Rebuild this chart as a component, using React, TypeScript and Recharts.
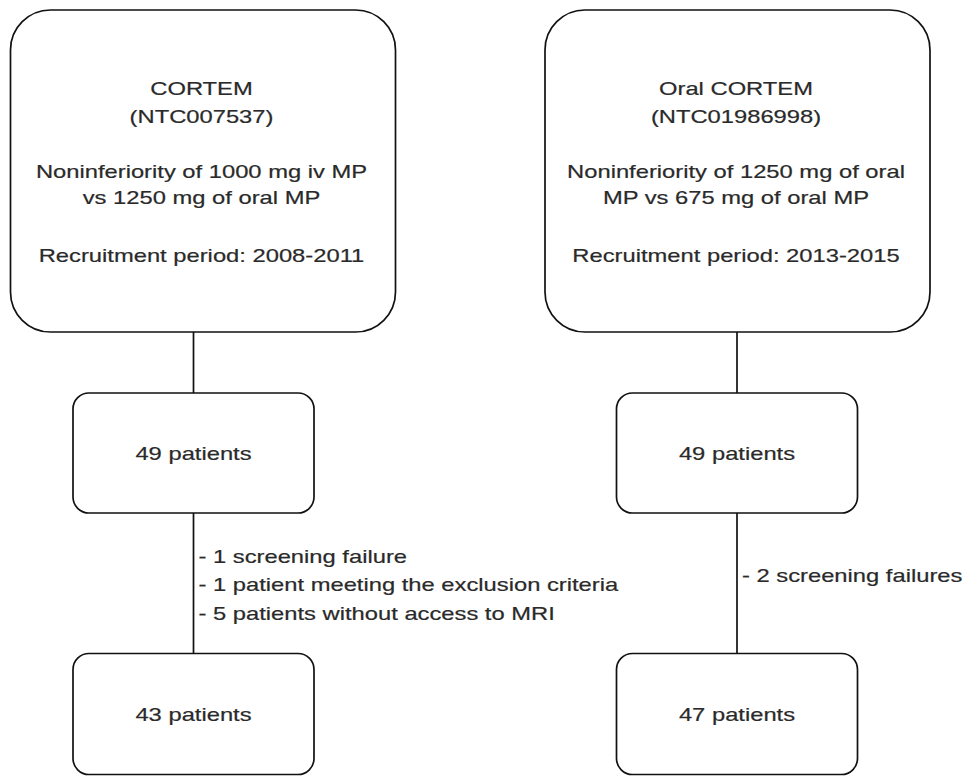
import { ScatterChart, Scatter, XAxis, YAxis, ReferenceLine } from 'recharts';

// study info
const STUDY_NAMES = ['CORTEM', 'Oral CORTEM'];
const TRIAL_IDS = ['NTC007537', 'NTC01986998'];
const AIMS = [
  ['Noninferiority of 1000 mg iv MP', 'vs 1250 mg of oral MP'],
  ['Noninferiority of 1250 mg of oral', 'MP vs 675 mg of oral MP'],
];
const PERIODS = ['2008-2011', '2013-2015'];

// patient flow
const ENROLLED = [49, 49];
const ANALYSED = [43, 47];
const EXCLUSIONS = [
  ['1 screening failure', '1 patient meeting the exclusion criteria', '5 patients without access to MRI'],
  ['2 screening failures'],
];

// layout (diagram units == pixels)
const W = 969;
const H = 776;
const COL_X = [193.5, 737];
const TRIAL_X = [203, 737.5];
const TRIAL_BOX = { y: 171, w: 385, h: 322, r: 40 };
const ENROLLED_BOX = { y: 453, w: 241, h: 120, r: 16 };
const ANALYSED_BOX = { y: 714, w: 241, h: 121, r: 16 };
const EXCLUSION_Y = [584, 575];

const FONT = '"Liberation Sans", Arial, Helvetica, sans-serif';
const FONT_SIZE = 19;
const STRETCH = 1.25;
const INK = '#111';
const TEXT = '#2a2a2a';

const trialData = STUDY_NAMES.map((name, i) => ({
  x: TRIAL_X[i],
  y: TRIAL_BOX.y,
  lines: [name, `(${TRIAL_IDS[i]})`, ...AIMS[i], `Recruitment period: ${PERIODS[i]}`],
}));
const enrolledData = ENROLLED.map((n, i) => ({ x: COL_X[i], y: ENROLLED_BOX.y, label: `${n} patients` }));
const analysedData = ANALYSED.map((n, i) => ({ x: COL_X[i], y: ANALYSED_BOX.y, label: `${n} patients` }));
const exclusionData = EXCLUSIONS.map((items, i) => ({ x: COL_X[i], y: EXCLUSION_Y[i], items }));

function Label({ x, y, text, anchor = 'middle' }: { x: number; y: number; text: string; anchor?: string }) {
  return (
    <text
      transform={`translate(${x},${y}) scale(${STRETCH},1)`}
      textAnchor={anchor}
      fontFamily={FONT}
      fontSize={FONT_SIZE}
      fill={TEXT}
      stroke={TEXT}
      strokeWidth={0.2}
    >
      {text}
    </text>
  );
}

const BASELINE_OFFSETS = [-76, -48, 7, 33, 91];

function TrialShape(props: any) {
  const { cx, cy, payload } = props;
  const { w, h, r } = TRIAL_BOX;
  return (
    <g>
      <rect x={cx - w / 2} y={cy - h / 2} width={w} height={h} rx={r} ry={r} fill="#fff" stroke={INK} strokeWidth={1.7} />
      {payload.lines.map((line: string, i: number) => (
        <Label key={i} x={cx - 1.5} y={cy + BASELINE_OFFSETS[i]} text={line} />
      ))}
    </g>
  );
}

function makeCountShape(box: { w: number; h: number; r: number }) {
  return (props: any) => {
    const { cx, cy, payload } = props;
    return (
      <g>
        <rect x={cx - box.w / 2} y={cy - box.h / 2} width={box.w} height={box.h} rx={box.r} ry={box.r} fill="#fff" stroke={INK} strokeWidth={1.7} />
        <Label x={cx} y={cy + 7} text={payload.label} />
      </g>
    );
  };
}

function ExclusionShape(props: any) {
  const { cx, cy, payload } = props;
  const step = 28.5;
  const first = cy + 7 - ((payload.items.length - 1) * step) / 2;
  return (
    <g>
      {payload.items.map((item: string, i: number) => (
        <Label key={i} x={cx + 5} y={first + i * step} text={`- ${item}`} anchor="start" />
      ))}
    </g>
  );
}

export default function App() {
  return (
    <div style={{ position: 'absolute', left: 0, top: 0, width: W, height: H, background: '#fff' }}>
      <ScatterChart width={W} height={H} margin={{ top: 0, right: 0, bottom: 0, left: 0 }}>
        <XAxis type="number" dataKey="x" domain={[0, W]} hide />
        <YAxis type="number" dataKey="y" domain={[0, H]} reversed hide />
        {COL_X.map((x, i) => (
          <ReferenceLine
            key={`top-${i}`}
            segment={[
              { x, y: TRIAL_BOX.y + TRIAL_BOX.h / 2 },
              { x, y: ENROLLED_BOX.y - ENROLLED_BOX.h / 2 },
            ]}
            stroke={INK}
            strokeWidth={1.7}
          />
        ))}
        {COL_X.map((x, i) => (
          <ReferenceLine
            key={`bottom-${i}`}
            segment={[
              { x, y: ENROLLED_BOX.y + ENROLLED_BOX.h / 2 },
              { x, y: ANALYSED_BOX.y - ANALYSED_BOX.h / 2 },
            ]}
            stroke={INK}
            strokeWidth={1.7}
          />
        ))}
        <Scatter data={trialData} shape={TrialShape} isAnimationActive={false} />
        <Scatter data={enrolledData} shape={makeCountShape(ENROLLED_BOX)} isAnimationActive={false} />
        <Scatter data={analysedData} shape={makeCountShape(ANALYSED_BOX)} isAnimationActive={false} />
        <Scatter data={exclusionData} shape={ExclusionShape} isAnimationActive={false} />
      </ScatterChart>
    </div>
  );
}
